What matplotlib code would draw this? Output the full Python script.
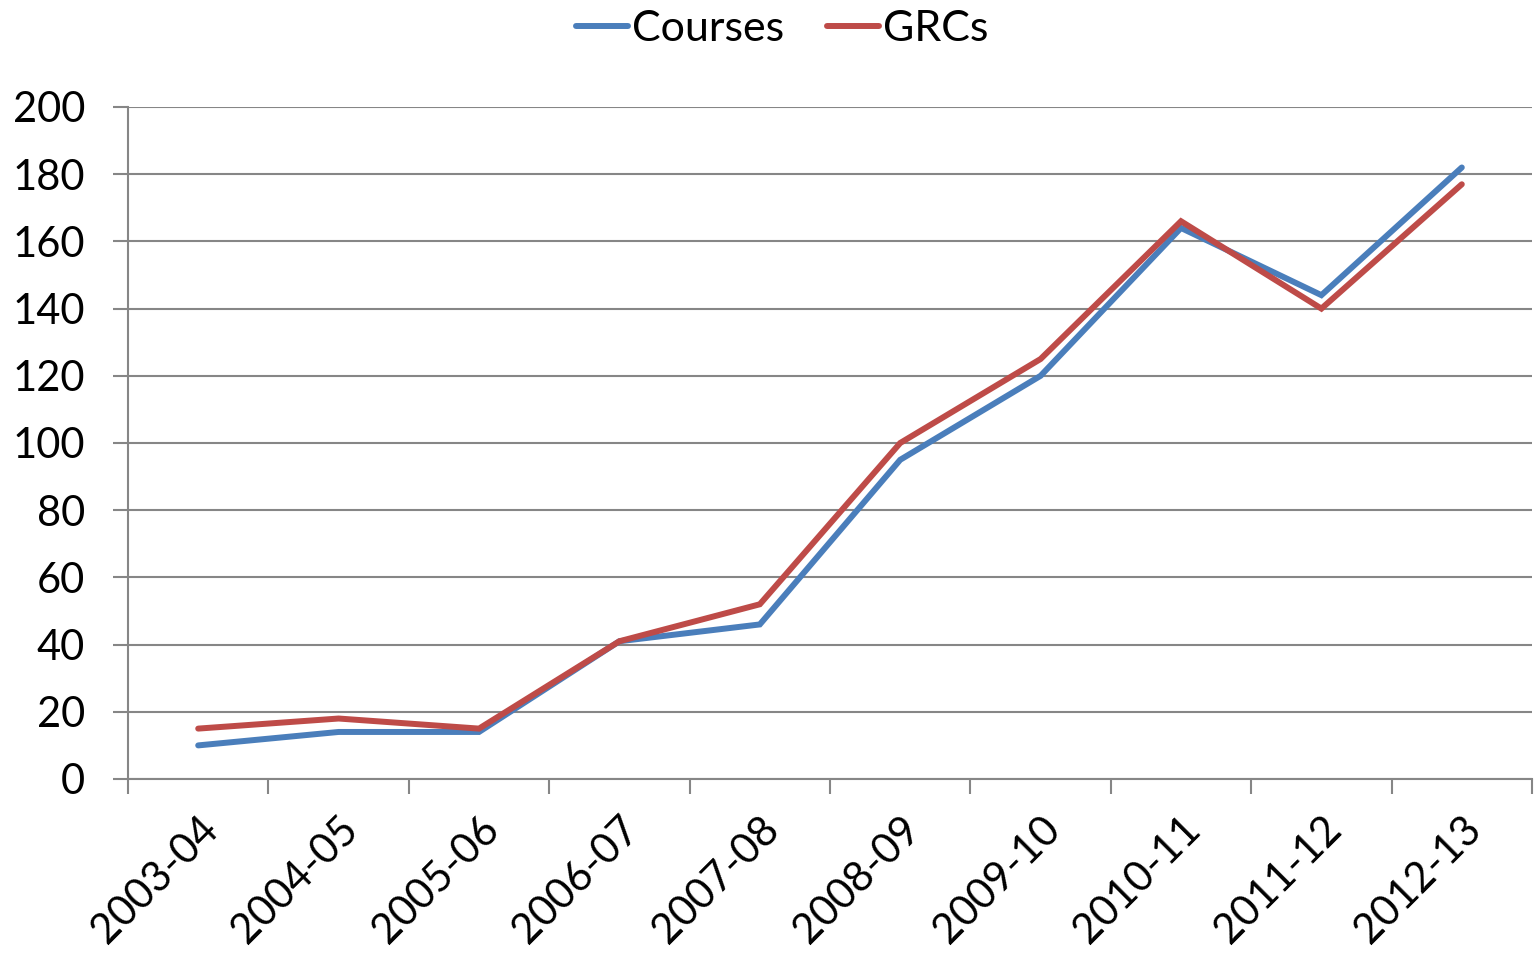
import matplotlib.pyplot as plt
from matplotlib.lines import Line2D

years = ["2003-04", "2004-05", "2005-06", "2006-07", "2007-08",
         "2008-09", "2009-10", "2010-11", "2011-12", "2012-13"]
courses = [10, 14, 14, 41, 46, 95, 120, 164, 144, 182]
grcs = [15, 18, 15, 41, 52, 100, 125, 166, 140, 177]
y_ticks = [0, 20, 40, 60, 80, 100, 120, 140, 160, 180, 200]

blue = "#4A7EBB"
red = "#BE4B48"
grid_gray = "#868686"

plt.rcParams["font.family"] = ["Lato", "DejaVu Sans"]

fig = plt.figure(figsize=(15.37, 9.58), dpi=100)
ax = fig.add_axes([128 / 1537, 1 - 779 / 958, 1404 / 1537, 672 / 958])

x = list(range(len(years)))
ax.plot(x, courses, color=blue, linewidth=4.3, solid_capstyle="round",
        solid_joinstyle="miter", zorder=3)
ax.plot(x, grcs, color=red, linewidth=4.3, solid_capstyle="round",
        solid_joinstyle="miter", zorder=3)

ax.set_xlim(-0.5, len(years) - 0.5)
ax.set_ylim(0, 200)

# y axis: gridlines and labels
ax.set_yticks(y_ticks)
ax.set_yticklabels([str(v) for v in y_ticks], fontsize=30)
ax.yaxis.grid(True, color=grid_gray, linewidth=1.5)
ax.tick_params(axis="y", length=11, width=1.5, color=grid_gray, pad=20)

# x axis: ticks between categories, labels at centres
ax.set_xticks([i - 0.5 for i in range(len(years) + 1)])
ax.set_xticklabels([])
ax.tick_params(axis="x", which="major", length=11, width=1.5, color=grid_gray)
ax.set_xticks(x, minor=True)
ax.set_xticklabels(years, minor=True, fontsize=30, rotation=45,
                   ha="right", va="top", rotation_mode="anchor")
ax.tick_params(axis="x", which="minor", length=0, pad=22)

for side in ["top", "right"]:
    ax.spines[side].set_visible(False)
for side in ["left", "bottom"]:
    ax.spines[side].set_color(grid_gray)
    ax.spines[side].set_linewidth(1.5)
ax.set_axisbelow(True)

handles = [Line2D([0], [0], color=blue, linewidth=4.3, solid_capstyle="round"),
           Line2D([0], [0], color=red, linewidth=4.3, solid_capstyle="round")]
fig.legend(handles, ["Courses", "GRCs"], loc="upper center",
           bbox_to_anchor=(0.509, 1.03), ncol=2, frameon=False, fontsize=31,
           handlelength=1.2, handletextpad=0.1, columnspacing=1.0)

fig.savefig("out.png", dpi=100)
